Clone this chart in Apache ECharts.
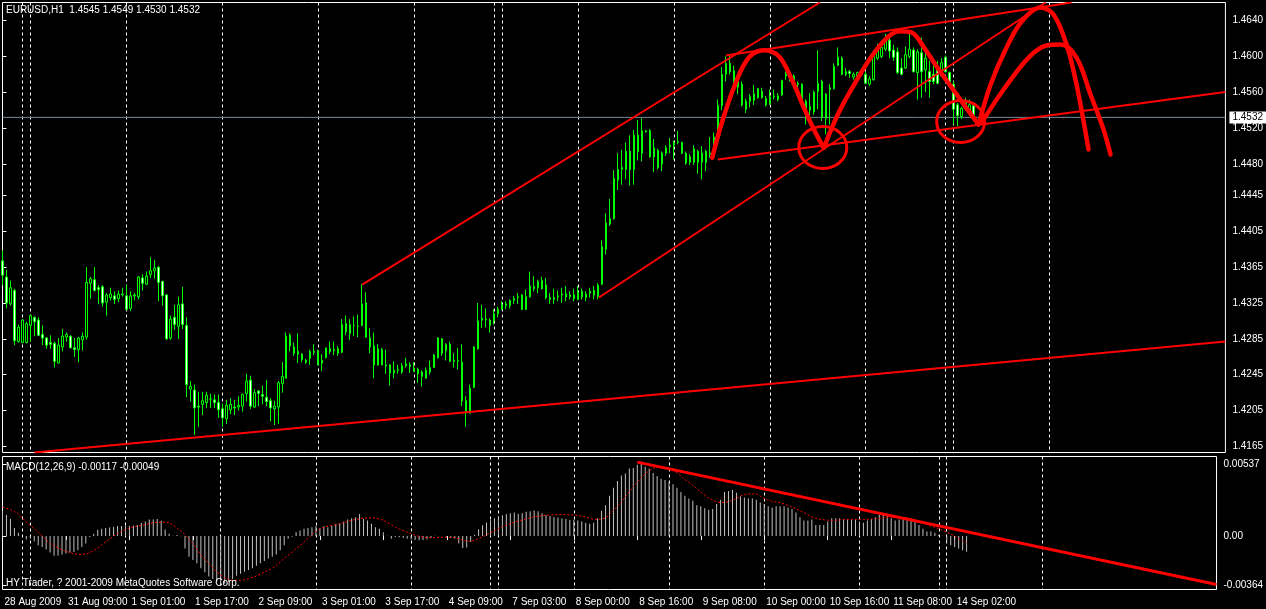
<!DOCTYPE html>
<html><head><meta charset="utf-8">
<script src="https://cdn.jsdelivr.net/npm/echarts@6.0.0/dist/echarts.min.js"></script>
<style>html,body{margin:0;padding:0;background:#000;}#c{width:1266px;height:609px;}</style>
</head><body><div id="c"></div>
<script>
// ---------------- DATA ----------------
const symbolName = 'EURUSD', timeframe = 'H1';
const copyrightText = 'HY Trader, ? 2001-2009 MetaQuotes Software Corp.';
const opens = [
1.4372,1.4354,1.4324,1.4339,1.4282,1.4281,1.4281,1.4300,1.4309,1.4306,
1.4290,1.4286,1.4281,1.4280,1.4258,1.4276,1.4287,1.4288,1.4275,1.4273,
1.4284,1.4287,1.4347,1.4351,1.4342,1.4343,1.4326,1.4331,1.4333,1.4330,
1.4334,1.4333,1.4319,1.4333,1.4332,1.4353,1.4346,1.4357,1.4361,1.4365,
1.4349,1.4334,1.4286,1.4309,1.4299,1.4324,1.4300,1.4229,1.4228,1.4210,
1.4212,1.4214,1.4218,1.4217,1.4214,1.4207,1.4196,1.4206,1.4209,1.4209,
1.4210,1.4224,1.4239,1.4209,1.4227,1.4223,1.4220,1.4216,1.4207,1.4209,
1.4235,1.4241,1.4289,1.4276,1.4268,1.4268,1.4261,1.4263,1.4270,1.4271,
1.4258,1.4264,1.4274,1.4273,1.4269,1.4270,1.4302,1.4291,1.4300,1.4299,
1.4300,1.4325,1.4286,1.4277,1.4256,1.4273,1.4256,1.4256,1.4247,1.4250,
1.4248,1.4255,1.4256,1.4252,1.4251,1.4243,1.4241,1.4248,1.4253,1.4264,
1.4285,1.4272,1.4279,1.4261,1.4260,1.4259,1.4216,1.4202,1.4231,1.4274,
1.4306,1.4307,1.4306,1.4305,1.4313,1.4318,1.4322,1.4322,1.4328,1.4331,
1.4334,1.4318,1.4332,1.4343,1.4342,1.4350,1.4345,1.4331,1.4329,1.4332,
1.4334,1.4335,1.4332,1.4334,1.4329,1.4338,1.4331,1.4336,1.4339,1.4332,
1.4346,1.4385,1.4413,1.4419,1.4462,1.4474,1.4474,1.4494,1.4474,1.4512,
1.4492,1.4516,1.4517,1.4488,1.4495,1.4480,1.4492,1.4499,1.4501,1.4504,
1.4504,1.4492,1.4482,1.4482,1.4494,1.4482,1.4494,1.4492,1.4491,1.4510,
1.4545,1.4580,1.4592,1.4584,1.4566,1.4569,1.4541,1.4550,1.4551,1.4554,
1.4561,1.4553,1.4547,1.4555,1.4552,1.4557,1.4578,1.4574,1.4572,1.4570,
1.4569,1.4550,1.4540,1.4538,1.4561,1.4572,1.4531,1.4563,1.4564,1.4590,
1.4598,1.4580,1.4583,1.4577,1.4578,1.4582,1.4580,1.4569,1.4574,1.4598,
1.4600,1.4608,1.4618,1.4607,1.4605,1.4587,1.4587,1.4600,1.4607,1.4582,
1.4604,1.4585,1.4583,1.4580,1.4587,1.4578,1.4599,1.4582,1.4569,1.4546,
1.4533,1.4542,1.4540,1.4545];
const closes = [
1.4356,1.4325,1.4342,1.4283,1.4298,1.4306,1.4302,1.4311,1.4304,1.4289,
1.4286,1.4278,1.4279,1.4260,1.4278,1.4288,1.4290,1.4275,1.4273,1.4286,
1.4288,1.4348,1.4352,1.4339,1.4340,1.4325,1.4334,1.4335,1.4329,1.4335,
1.4335,1.4318,1.4333,1.4334,1.4354,1.4347,1.4355,1.4361,1.4364,1.4348,
1.4333,1.4285,1.4307,1.4301,1.4323,1.4301,1.4234,1.4232,1.4208,1.4209,
1.4216,1.4222,1.4218,1.4214,1.4206,1.4197,1.4211,1.4212,1.4208,1.4211,
1.4223,1.4238,1.4210,1.4225,1.4224,1.4221,1.4215,1.4208,1.4210,1.4236,
1.4243,1.4288,1.4277,1.4269,1.4271,1.4262,1.4259,1.4271,1.4271,1.4256,
1.4261,1.4275,1.4271,1.4272,1.4274,1.4301,1.4293,1.4301,1.4300,1.4299,
1.4324,1.4287,1.4276,1.4256,1.4274,1.4256,1.4255,1.4247,1.4250,1.4251,
1.4255,1.4257,1.4254,1.4249,1.4246,1.4248,1.4250,1.4253,1.4267,1.4286,
1.4269,1.4279,1.4260,1.4260,1.4261,1.4216,1.4204,1.4230,1.4276,1.4305,
1.4308,1.4306,1.4300,1.4313,1.4318,1.4323,1.4324,1.4328,1.4330,1.4332,
1.4318,1.4332,1.4344,1.4341,1.4349,1.4341,1.4331,1.4329,1.4331,1.4333,
1.4335,1.4332,1.4334,1.4330,1.4337,1.4332,1.4335,1.4338,1.4334,1.4345,
1.4388,1.4414,1.4419,1.4464,1.4474,1.4476,1.4494,1.4474,1.4512,1.4494,
1.4517,1.4517,1.4488,1.4498,1.4476,1.4492,1.4498,1.4501,1.4504,1.4505,
1.4492,1.4481,1.4488,1.4497,1.4482,1.4492,1.4482,1.4491,1.4510,1.4545,
1.4580,1.4592,1.4583,1.4566,1.4572,1.4546,1.4550,1.4555,1.4558,1.4564,
1.4554,1.4546,1.4555,1.4556,1.4556,1.4573,1.4580,1.4580,1.4578,1.4569,
1.4550,1.4537,1.4544,1.4560,1.4570,1.4532,1.4558,1.4565,1.4589,1.4599,
1.4580,1.4583,1.4581,1.4580,1.4582,1.4580,1.4570,1.4575,1.4600,1.4610,
1.4610,1.4619,1.4606,1.4599,1.4582,1.4580,1.4602,1.4608,1.4583,1.4605,
1.4583,1.4598,1.4572,1.4572,1.4570,1.4593,1.4583,1.4569,1.4541,1.4534,
1.4542,1.4548,1.4546,1.4532];
const lows = [
1.4345,1.4319,1.4322,1.4278,1.4281,1.4280,1.4280,1.4282,1.4288,1.4288,
1.4278,1.4274,1.4274,1.4253,1.4258,1.4271,1.4282,1.4275,1.4265,1.4259,
1.4272,1.4284,1.4330,1.4338,1.4324,1.4321,1.4311,1.4328,1.4324,1.4326,
1.4332,1.4317,1.4316,1.4328,1.4329,1.4339,1.4345,1.4353,1.4352,1.4327,
1.4322,1.4284,1.4284,1.4295,1.4285,1.4296,1.4220,1.4215,1.4178,1.4187,
1.4200,1.4208,1.4208,1.4208,1.4197,1.4187,1.4190,1.4201,1.4200,1.4205,
1.4204,1.4215,1.4207,1.4208,1.4210,1.4212,1.4210,1.4193,1.4189,1.4190,
1.4225,1.4241,1.4271,1.4266,1.4258,1.4259,1.4257,1.4256,1.4267,1.4256,
1.4249,1.4263,1.4268,1.4267,1.4266,1.4269,1.4289,1.4284,1.4288,1.4287,
1.4299,1.4286,1.4269,1.4241,1.4255,1.4256,1.4246,1.4233,1.4241,1.4246,
1.4246,1.4253,1.4247,1.4248,1.4236,1.4232,1.4241,1.4245,1.4253,1.4263,
1.4266,1.4261,1.4259,1.4253,1.4251,1.4210,1.4187,1.4202,1.4230,1.4273,
1.4297,1.4298,1.4292,1.4301,1.4309,1.4317,1.4318,1.4319,1.4324,1.4324,
1.4317,1.4317,1.4331,1.4338,1.4336,1.4340,1.4329,1.4324,1.4324,1.4327,
1.4325,1.4327,1.4329,1.4327,1.4328,1.4329,1.4327,1.4331,1.4329,1.4329,
1.4345,1.4379,1.4411,1.4418,1.4451,1.4457,1.4463,1.4456,1.4457,1.4484,
1.4483,1.4515,1.4487,1.4471,1.4474,1.4472,1.4489,1.4492,1.4485,1.4502,
1.4491,1.4479,1.4479,1.4479,1.4469,1.4463,1.4472,1.4487,1.4488,1.4506,
1.4540,1.4572,1.4580,1.4560,1.4558,1.4544,1.4537,1.4543,1.4546,1.4553,
1.4553,1.4544,1.4546,1.4552,1.4550,1.4556,1.4574,1.4572,1.4568,1.4561,
1.4548,1.4524,1.4528,1.4535,1.4541,1.4528,1.4513,1.4524,1.4563,1.4589,
1.4579,1.4578,1.4576,1.4574,1.4576,1.4578,1.4569,1.4567,1.4573,1.4596,
1.4598,1.4606,1.4598,1.4595,1.4580,1.4579,1.4586,1.4598,1.4582,1.4552,
1.4554,1.4560,1.4554,1.4569,1.4569,1.4577,1.4582,1.4567,1.4524,1.4522,
1.4530,1.4539,1.4538,1.4530];
const highs = [
1.4384,1.4362,1.4350,1.4341,1.4301,1.4307,1.4304,1.4312,1.4310,1.4309,
1.4300,1.4287,1.4289,1.4282,1.4286,1.4296,1.4292,1.4289,1.4286,1.4287,
1.4292,1.4365,1.4354,1.4365,1.4345,1.4345,1.4336,1.4342,1.4338,1.4339,
1.4342,1.4345,1.4338,1.4336,1.4355,1.4357,1.4360,1.4376,1.4373,1.4366,
1.4350,1.4335,1.4311,1.4323,1.4332,1.4343,1.4309,1.4238,1.4234,1.4226,
1.4226,1.4226,1.4224,1.4223,1.4223,1.4213,1.4217,1.4219,1.4217,1.4221,
1.4224,1.4246,1.4244,1.4229,1.4228,1.4233,1.4239,1.4219,1.4216,1.4238,
1.4259,1.4292,1.4291,1.4281,1.4291,1.4269,1.4263,1.4273,1.4279,1.4273,
1.4268,1.4275,1.4282,1.4282,1.4277,1.4307,1.4311,1.4307,1.4310,1.4312,
1.4346,1.4337,1.4297,1.4292,1.4279,1.4275,1.4273,1.4257,1.4260,1.4256,
1.4258,1.4264,1.4259,1.4259,1.4253,1.4250,1.4253,1.4261,1.4268,1.4287,
1.4286,1.4280,1.4282,1.4269,1.4275,1.4279,1.4221,1.4234,1.4277,1.4325,
1.4323,1.4319,1.4308,1.4318,1.4321,1.4327,1.4327,1.4329,1.4333,1.4336,
1.4335,1.4340,1.4360,1.4355,1.4351,1.4354,1.4353,1.4336,1.4341,1.4339,
1.4342,1.4344,1.4338,1.4341,1.4344,1.4341,1.4338,1.4342,1.4344,1.4347,
1.4395,1.4425,1.4441,1.4473,1.4492,1.4496,1.4504,1.4512,1.4518,1.4529,
1.4531,1.4518,1.4519,1.4508,1.4497,1.4494,1.4501,1.4509,1.4506,1.4517,
1.4505,1.4494,1.4491,1.4501,1.4496,1.4500,1.4496,1.4510,1.4515,1.4552,
1.4588,1.4600,1.4602,1.4590,1.4580,1.4572,1.4553,1.4558,1.4568,1.4565,
1.4565,1.4556,1.4563,1.4563,1.4559,1.4574,1.4583,1.4583,1.4580,1.4572,
1.4570,1.4552,1.4559,1.4562,1.4607,1.4574,1.4559,1.4569,1.4592,1.4610,
1.4600,1.4587,1.4585,1.4582,1.4583,1.4587,1.4583,1.4578,1.4602,1.4614,
1.4613,1.4625,1.4621,1.4613,1.4610,1.4598,1.4611,1.4628,1.4610,1.4608,
1.4621,1.4605,1.4595,1.4591,1.4595,1.4598,1.4601,1.4583,1.4572,1.4548,
1.4544,1.4554,1.4552,1.4549];
const macdHist = [
0.00189,0.00157,0.00127,0.00059,0.00025,0.00002,-0.00025,-0.00020,-0.00039,-0.00069,
-0.00081,-0.00100,-0.00123,-0.00147,-0.00147,-0.00137,-0.00130,-0.00123,-0.00118,-0.00105,
-0.00081,-0.00056,-0.00007,0.00017,0.00047,0.00054,0.00059,0.00064,0.00069,0.00074,
0.00074,0.00078,0.00074,0.00078,0.00083,0.00098,0.00108,0.00123,0.00123,0.00127,
0.00113,0.00049,0.00017,0.00003,0.00008,-0.00002,-0.00093,-0.00154,-0.00179,-0.00203,
-0.00240,-0.00270,-0.00301,-0.00320,-0.00340,-0.00364,-0.00355,-0.00338,-0.00320,-0.00295,
-0.00280,-0.00265,-0.00252,-0.00240,-0.00221,-0.00203,-0.00186,-0.00167,-0.00154,-0.00137,
-0.00105,-0.00069,-0.00020,-0.00005,0.00029,0.00042,0.00054,0.00059,0.00066,0.00074,
0.00059,0.00074,0.00066,0.00078,0.00091,0.00096,0.00108,0.00123,0.00132,0.00140,
0.00164,0.00127,0.00115,0.00091,0.00066,0.00054,0.00029,0.00002,-0.00020,-0.00007,
-0.00010,-0.00015,-0.00020,-0.00025,-0.00030,-0.00032,-0.00030,-0.00025,-0.00015,0.00002,
-0.00002,0.00000,-0.00008,-0.00015,-0.00020,-0.00055,-0.00090,-0.00085,-0.00045,0.00010,
0.00050,0.00080,0.00100,0.00118,0.00132,0.00145,0.00155,0.00162,0.00170,0.00175,
0.00165,0.00170,0.00180,0.00185,0.00190,0.00185,0.00170,0.00158,0.00150,0.00142,
0.00138,0.00130,0.00127,0.00120,0.00122,0.00115,0.00108,0.00098,0.00091,0.00098,
0.00132,0.00189,0.00230,0.00299,0.00360,0.00409,0.00451,0.00466,0.00502,0.00507,
0.00530,0.00537,0.00515,0.00500,0.00470,0.00446,0.00426,0.00417,0.00404,0.00385,
0.00360,0.00328,0.00299,0.00279,0.00262,0.00230,0.00221,0.00206,0.00196,0.00201,
0.00238,0.00270,0.00328,0.00336,0.00343,0.00323,0.00294,0.00287,0.00279,0.00279,
0.00270,0.00250,0.00238,0.00221,0.00213,0.00221,0.00221,0.00221,0.00213,0.00201,
0.00176,0.00140,0.00115,0.00115,0.00123,0.00083,0.00083,0.00083,0.00108,0.00132,
0.00132,0.00132,0.00127,0.00123,0.00123,0.00123,0.00108,0.00098,0.00115,0.00127,
0.00140,0.00157,0.00157,0.00152,0.00132,0.00115,0.00123,0.00127,0.00127,0.00115,
0.00108,0.00083,0.00054,0.00034,0.00034,0.00025,0.00010,0.00002,-0.00049,-0.00069,
-0.00081,-0.00093,-0.00105,-0.00117];
const macdSignal = [
0.00216,0.00207,0.00198,0.00182,0.00166,0.00135,0.00104,0.00080,0.00055,0.00028,
0.00000,-0.00028,-0.00057,-0.00073,-0.00089,-0.00102,-0.00114,-0.00123,-0.00131,-0.00135,
-0.00139,-0.00132,-0.00124,-0.00107,-0.00089,-0.00067,-0.00045,-0.00023,0.00000,0.00018,
0.00035,0.00048,0.00060,0.00067,0.00074,0.00079,0.00084,0.00092,0.00099,0.00102,
0.00104,0.00102,0.00099,0.00080,0.00060,0.00035,0.00010,-0.00024,-0.00057,-0.00098,
-0.00139,-0.00173,-0.00206,-0.00237,-0.00268,-0.00290,-0.00312,-0.00321,-0.00330,-0.00330,
-0.00330,-0.00324,-0.00317,-0.00308,-0.00298,-0.00283,-0.00268,-0.00255,-0.00241,-0.00217,
-0.00193,-0.00169,-0.00144,-0.00119,-0.00094,-0.00070,-0.00045,-0.00018,0.00010,0.00033,
0.00055,0.00065,0.00074,0.00079,0.00084,0.00092,0.00099,0.00108,0.00117,0.00123,
0.00129,0.00133,0.00136,0.00135,0.00134,0.00126,0.00117,0.00100,0.00084,0.00067,
0.00052,0.00040,0.00028,0.00017,0.00007,-0.00002,-0.00008,-0.00012,-0.00013,-0.00012,
-0.00010,-0.00009,-0.00009,-0.00010,-0.00012,-0.00020,-0.00030,-0.00038,-0.00040,-0.00032,
-0.00020,-0.00006,0.00010,0.00025,0.00040,0.00055,0.00068,0.00080,0.00092,0.00103,
0.00112,0.00120,0.00128,0.00136,0.00143,0.00148,0.00152,0.00155,0.00157,0.00158,
0.00160,0.00160,0.00159,0.00158,0.00156,0.00154,0.00148,0.00141,0.00132,0.00124,
0.00124,0.00127,0.00134,0.00160,0.00191,0.00222,0.00253,0.00292,0.00332,0.00367,
0.00402,0.00433,0.00464,0.00485,0.00506,0.00510,0.00513,0.00507,0.00501,0.00486,
0.00471,0.00447,0.00422,0.00400,0.00377,0.00352,0.00327,0.00305,0.00283,0.00268,
0.00253,0.00250,0.00248,0.00257,0.00265,0.00281,0.00298,0.00306,0.00313,0.00314,
0.00315,0.00297,0.00278,0.00268,0.00258,0.00253,0.00248,0.00238,0.00228,0.00216,
0.00203,0.00189,0.00174,0.00158,0.00141,0.00133,0.00124,0.00121,0.00117,0.00117,
0.00117,0.00120,0.00124,0.00124,0.00124,0.00124,0.00124,0.00124,0.00124,0.00126,
0.00129,0.00131,0.00134,0.00138,0.00141,0.00141,0.00141,0.00138,0.00134,0.00129,
0.00124,0.00112,0.00099,0.00087,0.00074,0.00065,0.00055,0.00043,0.00030,0.00015,
0.00000,-0.00022,-0.00035,-0.00049];

// bar indices of the day separators (dashed verticals) and axis tick labels
const dayLineBars = [5,7,31,55,79,103,123,125,144,168,192,216,236,238,262];
const xTickBars = [0,16,32,48,64,80,96,112,128,144,160,176,192,208,224,240];
const xTickLabels = ['28 Aug 2009','31 Aug 09:00','1 Sep 01:00','1 Sep 17:00','2 Sep 09:00',
 '3 Sep 01:00','3 Sep 17:00','4 Sep 09:00','7 Sep 03:00','8 Sep 00:00','8 Sep 16:00',
 '9 Sep 08:00','10 Sep 00:00','10 Sep 16:00','11 Sep 08:00','14 Sep 02:00'];
const priceTicks = [1.4640,1.4600,1.4560,1.4520,1.4480,1.4445,1.4405,1.4365,1.4325,1.4285,1.4245,1.4205,1.4165];
const macdTicks = [0.00537, 0, -0.00364];
const macdTickLabels = ['0.00537', '0.00', '-0.00364'];

// hand drawn annotations, in (bar index, price) coordinates
const trendLines = [
 [[8, 1.41583], [306, 1.42821]],
 [[90, 1.43456], [204.5, 1.46601]],
 [[149.25, 1.43311], [261, 1.46601]],
 [[181, 1.46010], [267.5, 1.46601]],
 [[179, 1.44850], [306, 1.45603]]
];
const macdTrendLine = [[160, 0.00550], [306, -0.00361]];
const arcA = [[177.6,1.44869],[180.0,1.45263],[183.5,1.45709],[186.75,1.45987],[190.5,1.46069],[194.25,1.46002],[197.5,1.45742],[200.9,1.45389],[203.4,1.45151],[205.5,1.44981]];
const arcB = [[205.5,1.44981],[209.25,1.45374],[213.4,1.45709],[217.5,1.46002],[221.75,1.46225],[224.7,1.46281],[227.5,1.46266],[230.9,1.46077],[234.25,1.45854],[238.4,1.45597],[241.75,1.45389],[244.25,1.45240]];
const arcC = [[244.25,1.45240],[247.25,1.45686],[251,1.46077],[255,1.46389],[259.75,1.46545],[263,1.46467],[266.25,1.46132],[268.75,1.45686],[271.75,1.44962]];
const arcD = [[245,1.45263],[250.5,1.45631],[256.75,1.45987],[261.25,1.46121],[264.75,1.46132],[268.75,1.45987],[272.25,1.45575],[275.5,1.45185],[277.25,1.44906]];
const circles = [[205.25, 1.44984], [239.75, 1.45274]];

// ---------------- LAYOUT ----------------
const slotCount = 307;
const categories = Array.from({length: slotCount}, (_, i) => String(i));
const daySet = new Set(dayLineBars);
const tickMap = {}; xTickBars.forEach((b, k) => tickMap[b] = xTickLabels[k]);
const last = opens.length - 1;
const lastClose = closes[last];
const FONT = '"Liberation Sans", Arial, sans-serif';
const RED = '#ff0000', GREEN = '#00ff00';

const chart = echarts.init(document.getElementById('c'), null, {renderer: 'canvas'});
const dashed = {show: true, interval: (i) => daySet.has(i), lineStyle: {color: '#ffffff', type: [3, 3], width: 1}};
chart.setOption({
  animation: false,
  backgroundColor: '#000000',
  grid: [
    {left: 2.5, top: 2.5, width: 1224, height: 450, show: true, borderColor: '#ffffff', borderWidth: 1, backgroundColor: 'transparent'},
    {left: 2.5, top: 456.5, width: 1224, height: 133, show: true, borderColor: '#ffffff', borderWidth: 1, backgroundColor: 'transparent'}
  ],
  xAxis: [
    {type: 'category', gridIndex: 0, data: categories, boundaryGap: false, axisLine: {show: false}, axisTick: {show: false}, axisLabel: {show: false}, splitLine: dashed},
    {type: 'category', gridIndex: 1, data: categories, boundaryGap: false, position: 'bottom', axisLine: {show: false},
     axisTick: {show: true, interval: (i) => i in tickMap, length: 4, lineStyle: {color: '#ffffff'}},
     axisLabel: {show: true, interval: (i) => i in tickMap, formatter: (v) => tickMap[Number(v)] || '', color: '#ffffff', fontSize: 10, fontFamily: FONT, align: 'left', margin: 8, padding: [0, 0, 0, 2]},
     splitLine: dashed},
    {type: 'value', gridIndex: 0, min: 0, max: slotCount - 1, show: false},
    {type: 'value', gridIndex: 1, min: 0, max: slotCount - 1, show: false}
  ],
  yAxis: [
    {type: 'value', gridIndex: 0, position: 'right', min: 1.41583, max: 1.46601, axisLine: {show: false}, splitLine: {show: false},
     axisTick: {show: true, customValues: priceTicks, length: 4, lineStyle: {color: '#ffffff'}},
     axisLabel: {show: true, customValues: priceTicks, formatter: (v) => v.toFixed(4), color: '#ffffff', fontSize: 10, fontFamily: FONT, margin: 7}},
    {type: 'value', gridIndex: 1, position: 'right', min: -0.00398, max: 0.00592, axisLine: {show: false}, splitLine: {show: false},
     axisTick: {show: true, customValues: macdTicks, length: 4, lineStyle: {color: '#ffffff'}},
     axisLabel: {show: true, customValues: macdTicks, formatter: (v) => { const k = macdTicks.findIndex(t => Math.abs(t - v) < 1e-9); return k >= 0 ? macdTickLabels[k] : ''; }, color: '#ffffff', fontSize: 10, fontFamily: FONT, margin: 7}}
  ],
  series: [
    // current bid line
    {type: 'line', xAxisIndex: 2, yAxisIndex: 0, data: [[0, lastClose], [slotCount - 1, lastClose]], symbol: 'none', silent: true, z: 1,
     lineStyle: {color: '#778899', width: 1},
     endLabel: {show: true, formatter: lastClose.toFixed(4), backgroundColor: '#ffffff', color: '#000000', fontSize: 10, fontFamily: FONT, padding: [1, 3, 1, 3], distance: 4}},
    {type: 'candlestick', xAxisIndex: 0, yAxisIndex: 0, barWidth: 2, silent: true, z: 3,
     data: opens.map((o, i) => [o, closes[i], lows[i], highs[i]]),
     itemStyle: {color: '#000000', color0: '#ffffff', borderColor: GREEN, borderColor0: GREEN, borderWidth: 1}},
    ...trendLines.map(seg => ({type: 'line', xAxisIndex: 2, yAxisIndex: 0, data: seg, symbol: 'none', silent: true, clip: true, z: 5,
      lineStyle: {color: RED, width: 2}})),
    ...[arcA, arcB, arcC, arcD].map(a => ({type: 'line', xAxisIndex: 2, yAxisIndex: 0, data: a, smooth: 0.35, symbol: 'none', silent: true, clip: true, z: 6,
      lineStyle: {color: RED, width: 4.5, cap: 'round', join: 'round'}})),
    {type: 'custom', xAxisIndex: 2, yAxisIndex: 0, data: circles, silent: true, z: 6,
     renderItem: (params, api) => { const c = api.coord([api.value(0), api.value(1)]);
       return {type: 'ellipse', shape: {cx: c[0], cy: c[1], rx: 24, ry: 21}, style: {fill: 'none', stroke: RED, lineWidth: 3}}; }},
    {type: 'bar', xAxisIndex: 1, yAxisIndex: 1, data: macdHist, barWidth: 1, silent: true, itemStyle: {color: '#c0c0c0'}},
    {type: 'line', xAxisIndex: 1, yAxisIndex: 1, data: macdSignal, symbol: 'none', silent: true, z: 4,
     lineStyle: {color: RED, width: 1, type: [2, 2]}},
    {type: 'line', xAxisIndex: 3, yAxisIndex: 1, data: macdTrendLine, symbol: 'none', silent: true, clip: true, z: 5,
     lineStyle: {color: RED, width: 3}}
  ],
  graphic: [
    {type: 'text', left: 6, top: 5, z: 10, style: {text: symbolName + ',' + timeframe + '  ' + [opens[last], highs[last], lows[last], closes[last]].map(v => v.toFixed(4)).join(' '), fill: '#ffffff', font: '10px ' + FONT}},
    {type: 'text', left: 6, top: 462, z: 10, style: {text: 'MACD(12,26,9) ' + macdHist[last].toFixed(5) + ' ' + macdSignal[last].toFixed(5), fill: '#ffffff', font: '10px ' + FONT}},
    {type: 'text', left: 6, top: 578, z: 10, style: {text: copyrightText, fill: '#ffffff', font: '10px ' + FONT}}
  ]
});
</script></body></html>
